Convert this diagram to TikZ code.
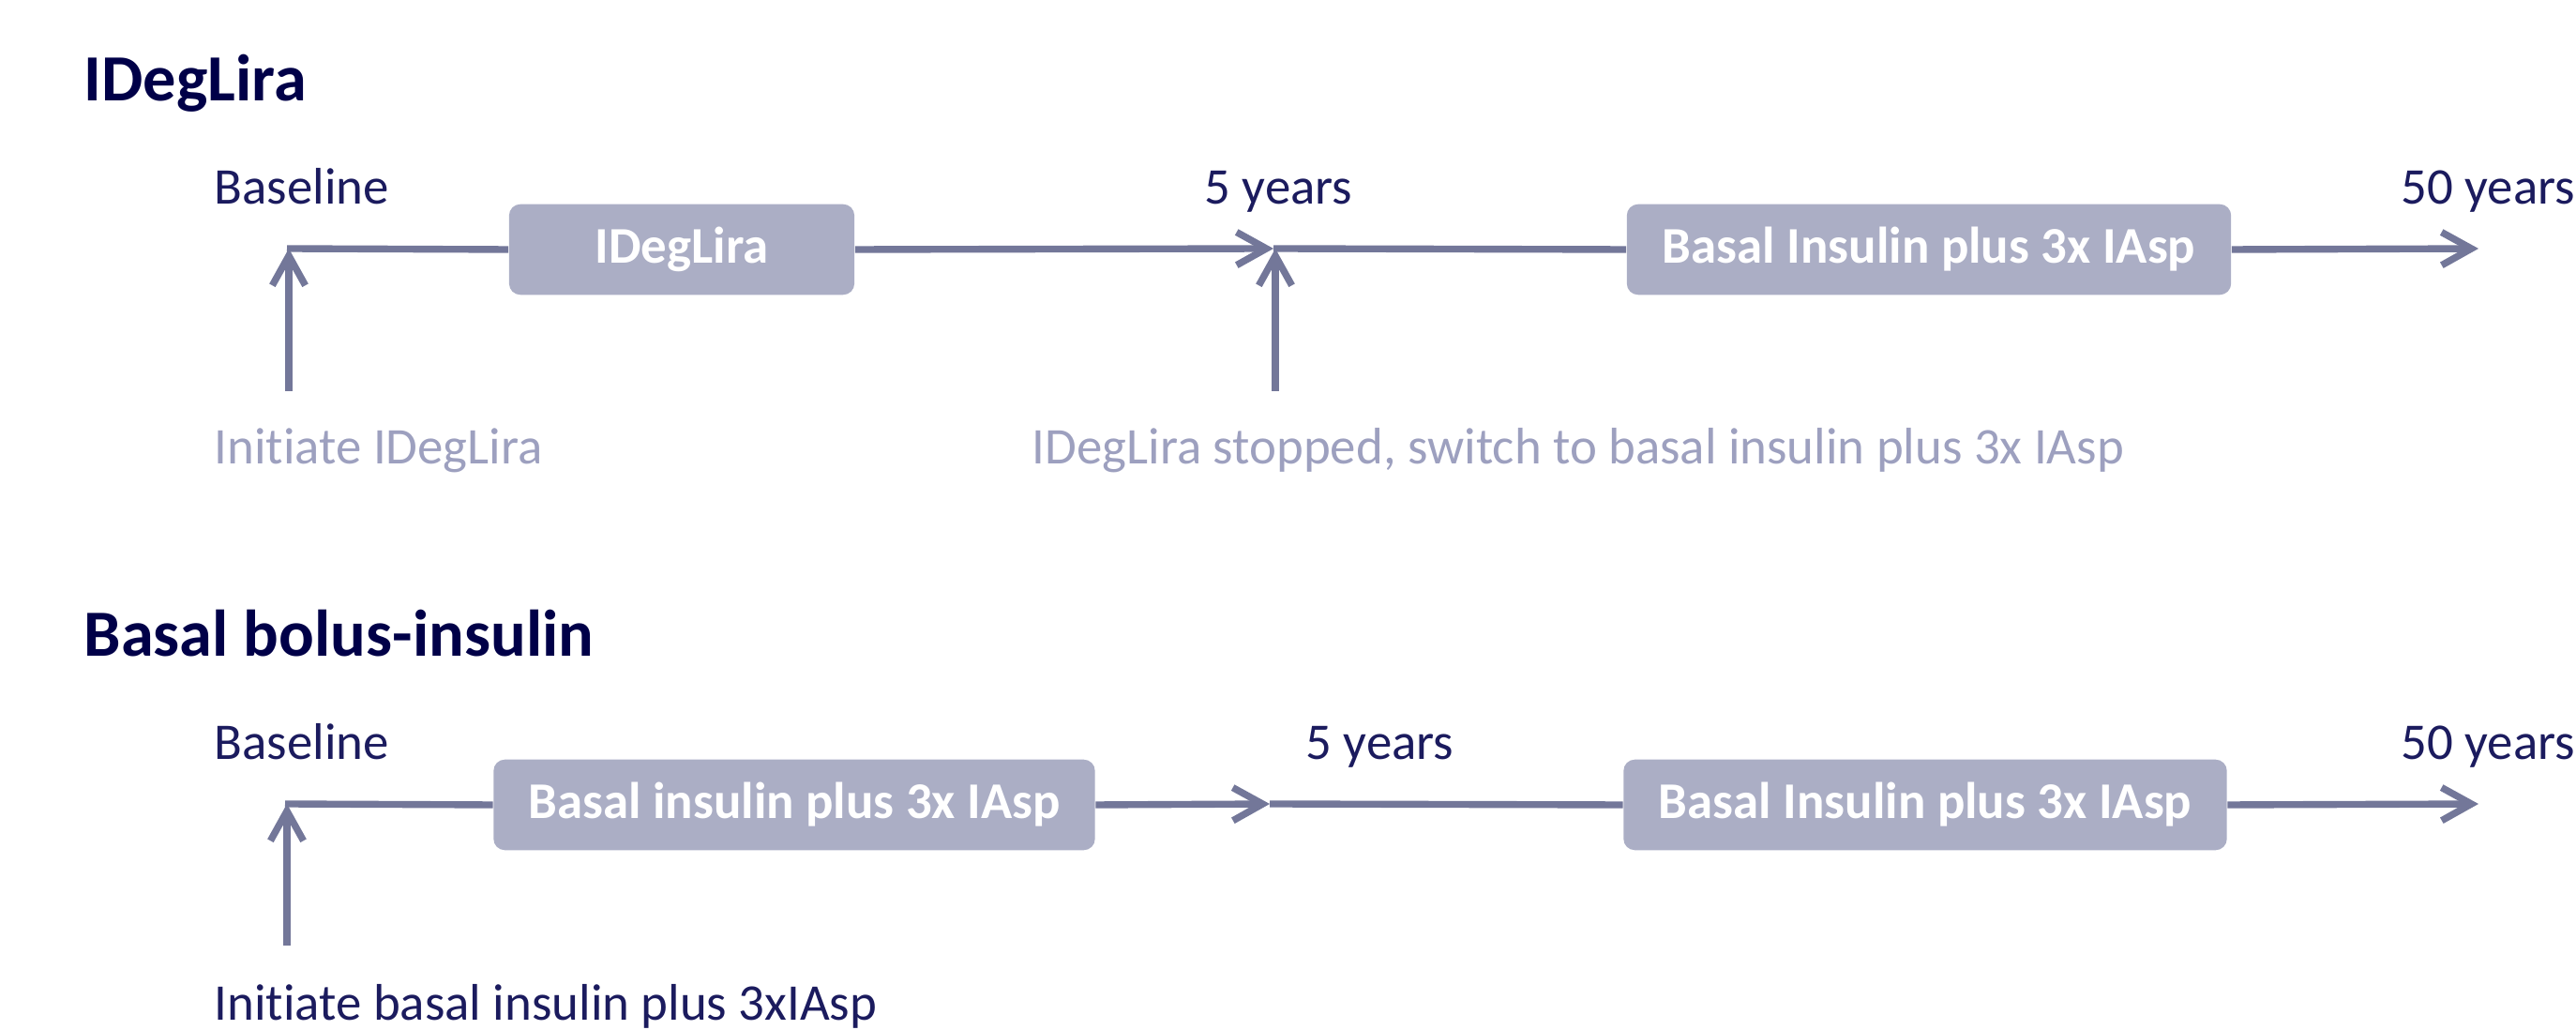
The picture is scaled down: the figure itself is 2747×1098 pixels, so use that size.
\documentclass[tikz,border=0pt]{standalone}
\usepackage{fontspec}
\setmainfont{Carlito}[Ligatures=NoCommon]
\usetikzlibrary{arrows.meta}
\definecolor{navy}{HTML}{000048}
\definecolor{darktxt}{HTML}{1B1B5E}
\definecolor{linecol}{HTML}{737799}
\definecolor{boxfill}{HTML}{ABAEC5}
\definecolor{lighttxt}{HTML}{9DA0BF}
\tikzset{
  px/.style={x=0.01cm,y=-0.01cm},
  titletxt/.style={anchor=base west,inner sep=0pt,text=navy,font=\fontsize{20pt}{24pt}\selectfont\bfseries},
  marktxt/.style={anchor=base west,inner sep=0pt,text=darktxt,font=\fontsize{15.6pt}{18pt}\selectfont},
  notetxt/.style={anchor=base west,inner sep=0pt,text=lighttxt,font=\fontsize{15.6pt}{18pt}\selectfont},
  phasebox/.style={fill=boxfill,rounded corners=0.12cm,inner sep=0pt,minimum height=0.965cm,text=white,font=\fontsize{15.6pt}{18pt}\selectfont\bfseries},
  tl/.style={draw=linecol,line width=2.1pt},
  tlarrow/.style={draw=linecol,line width=2.1pt,-{Straight Barb[length=9pt,width=10pt,line width=2.1pt]}},
}
\begin{document}
\begin{tikzpicture}[px]
\useasboundingbox (0,0) rectangle (2747,1098);
% ---------- IDegLira ----------
\node[titletxt] (t1) at (89,108) {IDegLira};
\node[marktxt] (b1lab) at (228,218) {Baseline};
\node[marktxt] (y5a) at (1284,218) {5 years};
\node[marktxt] (y50a) at (2560,218) {50 years};
\coordinate (s1) at (306,265);
\coordinate (m1) at (1358,265);
\coordinate (e1) at (2643,265);
\coordinate (v1) at (308,417);
\coordinate (v2) at (1360,417);
\node[phasebox,minimum width=3.68cm] (box1) at (727,266) {IDegLira};
\node[phasebox,minimum width=6.44cm] (box2) at (2057,266) {Basal Insulin plus 3x IAsp};
\draw[tl] (s1) -- (box1.west);
\draw[tlarrow] (box1.east) -- (m1);
\draw[tl] (m1) -- (box2.west);
\draw[tlarrow] (box2.east) -- (e1);
\draw[tlarrow] (v1) -- (s1 -| v1);
\draw[tlarrow] (v2) -- (m1 -| v2);
\node[notetxt] (n1) at (228,495) {Initiate IDegLira};
\node[notetxt] (n2) at (1100,495) {IDegLira stopped, switch to basal insulin plus 3x IAsp};
% ---------- Basal bolus-insulin ----------
\node[titletxt] (t2) at (89,700) {Basal bolus-insulin};
\node[marktxt] (b2lab) at (228,810) {Baseline};
\node[marktxt] (y5b) at (1392,810) {5 years};
\node[marktxt] (y50b) at (2560,810) {50 years};
\coordinate (s2) at (304,857);
\coordinate (m2) at (1354,857);
\coordinate (e2) at (2643,857);
\coordinate (v3) at (306,1008);
\node[phasebox,minimum width=6.41cm] (box3) at (847,858) {Basal insulin plus 3x IAsp};
\node[phasebox,minimum width=6.43cm] (box4) at (2053,858) {Basal Insulin plus 3x IAsp};
\draw[tl] (s2) -- (box3.west);
\draw[tlarrow] (box3.east) -- (m2);
\draw[tl] (m2) -- (box4.west);
\draw[tlarrow] (box4.east) -- (e2);
\draw[tlarrow] (v3) -- (s2 -| v3);
\node[marktxt] (n3) at (228,1088) {Initiate basal insulin plus 3xIAsp};
\end{tikzpicture}
\end{document}
